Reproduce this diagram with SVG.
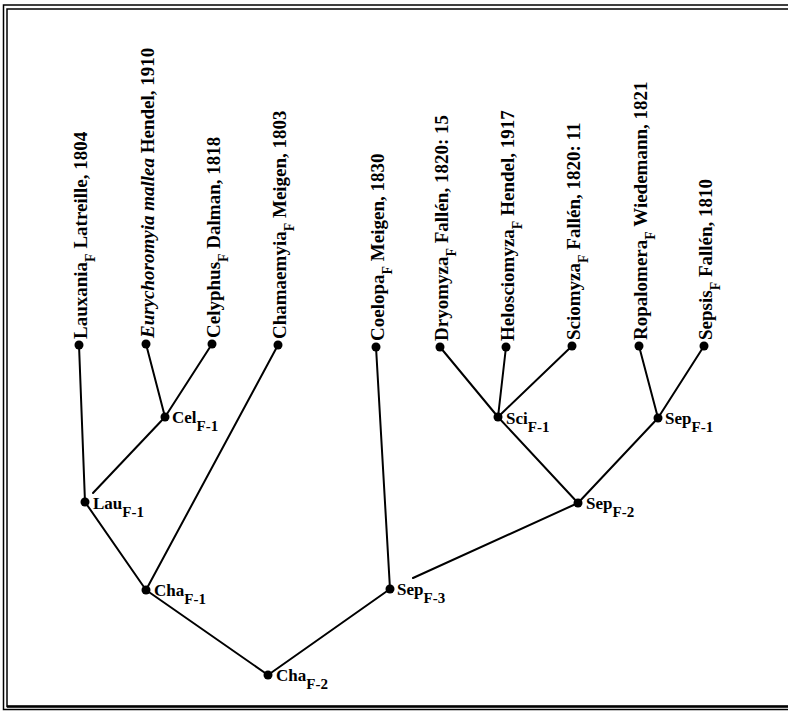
<svg xmlns="http://www.w3.org/2000/svg" width="788" height="711" viewBox="0 0 788 711">
<style>
.bg{fill:#ffffff}
.frame{fill:none;stroke:#000;stroke-width:1.5}
.edge{stroke:#000;stroke-width:2;fill:none;stroke-linecap:round}
.dot{fill:#000}
.leaf{font-family:"Liberation Serif","Times New Roman",serif;font-weight:bold;font-size:19px;fill:#000}
.lsub{font-size:14px}
.it{font-style:italic}
.inode{font-family:"Liberation Serif","Times New Roman",serif;font-weight:bold;font-size:17px;fill:#000}
.isub{font-size:15px}
</style>
<rect class="bg" x="0" y="0" width="788" height="711"/>
<g id="frame">
<polyline class="frame" points="788,5 3.5,5 3.5,709.5 788,709.5"/>
<polyline class="frame" points="788,9 7,9 7,706.5 788,706.5"/>
<line x1="7" y1="706.5" x2="788" y2="706.5" stroke="#000" stroke-width="2.5"/>
</g>
<g id="connectors">
<line class="edge" x1="79" y1="345" x2="85" y2="502"/>
<line class="edge" x1="146" y1="344" x2="165" y2="417"/>
<line class="edge" x1="212" y1="344" x2="165" y2="417"/>
<line class="edge" x1="165" y1="417" x2="93" y2="493"/>
<line class="edge" x1="85" y1="502" x2="146" y2="590"/>
<line class="edge" x1="278" y1="345" x2="146" y2="590"/>
<line class="edge" x1="146" y1="590" x2="268" y2="675"/>
<line class="edge" x1="268" y1="675" x2="390" y2="589"/>
<line class="edge" x1="376" y1="347" x2="390" y2="589"/>
<line class="edge" x1="413" y1="578" x2="578" y2="503"/>
<line class="edge" x1="440" y1="347" x2="498" y2="417"/>
<line class="edge" x1="506" y1="347" x2="498" y2="417"/>
<line class="edge" x1="572" y1="346" x2="498" y2="417"/>
<line class="edge" x1="498" y1="417" x2="578" y2="503"/>
<line class="edge" x1="639" y1="346" x2="658" y2="418"/>
<line class="edge" x1="704" y1="346" x2="658" y2="418"/>
<line class="edge" x1="658" y1="418" x2="578" y2="503"/>
</g>
<g id="lauxania"><circle class="dot" cx="79" cy="345" r="4.5"/><text class="leaf" transform="translate(87,339) rotate(-90)">Lauxania<tspan class="lsub" dy="8">F</tspan><tspan dy="-8"> Latreille, 1804</tspan></text></g>
<g id="eurychoromyia"><circle class="dot" cx="146" cy="344" r="4.5"/><text class="leaf" transform="translate(154,338) rotate(-90)"><tspan class="it">Eurychoromyia mallea</tspan> Hendel, 1910</text></g>
<g id="celyphus"><circle class="dot" cx="212" cy="344" r="4.5"/><text class="leaf" transform="translate(220,338) rotate(-90)">Celyphus<tspan class="lsub" dy="8">F</tspan><tspan dy="-8"> Dalman, 1818</tspan></text></g>
<g id="chamaemyia"><circle class="dot" cx="278" cy="345" r="4.5"/><text class="leaf" transform="translate(286,339) rotate(-90)">Chamaemyia<tspan class="lsub" dy="8">F</tspan><tspan dy="-8"> Meigen, 1803</tspan></text></g>
<g id="coelopa"><circle class="dot" cx="376" cy="347" r="4.5"/><text class="leaf" transform="translate(384,341) rotate(-90)">Coelopa<tspan class="lsub" dy="8">F</tspan><tspan dy="-8"> Meigen, 1830</tspan></text></g>
<g id="dryomyza"><circle class="dot" cx="440" cy="347" r="4.5"/><text class="leaf" transform="translate(448,341) rotate(-90)">Dryomyza<tspan class="lsub" dy="8">F</tspan><tspan dy="-8"> Fallén, 1820: 15</tspan></text></g>
<g id="helosciomyza"><circle class="dot" cx="506" cy="347" r="4.5"/><text class="leaf" transform="translate(514,341) rotate(-90)">Helosciomyza<tspan class="lsub" dy="8">F</tspan><tspan dy="-8"> Hendel, 1917</tspan></text></g>
<g id="sciomyza"><circle class="dot" cx="572" cy="346" r="4.5"/><text class="leaf" transform="translate(580,340) rotate(-90)">Sciomyza<tspan class="lsub" dy="8">F</tspan><tspan dy="-8"> Fallén, 1820: 11</tspan></text></g>
<g id="ropalomera"><circle class="dot" cx="639" cy="346" r="4.5"/><text class="leaf" transform="translate(647,340) rotate(-90)">Ropalomera<tspan class="lsub" dy="8">F</tspan><tspan dy="-8"> Wiedemann, 1821</tspan></text></g>
<g id="sepsis"><circle class="dot" cx="704" cy="346" r="4.5"/><text class="leaf" transform="translate(712,340) rotate(-90)">Sepsis<tspan class="lsub" dy="8">F</tspan><tspan dy="-8"> Fallén, 1810</tspan></text></g>
<g id="cel-f1"><circle class="dot" cx="165" cy="417" r="4.5"/><text class="inode" x="172" y="423">Cel<tspan class="isub" dy="8">F-1</tspan></text></g>
<g id="lau-f1"><circle class="dot" cx="85" cy="502" r="4.5"/><text class="inode" x="93" y="509">Lau<tspan class="isub" dy="8">F-1</tspan></text></g>
<g id="cha-f1"><circle class="dot" cx="146" cy="590" r="4.5"/><text class="inode" x="154" y="596">Cha<tspan class="isub" dy="8">F-1</tspan></text></g>
<g id="cha-f2"><circle class="dot" cx="268" cy="675" r="4.5"/><text class="inode" x="276" y="681">Cha<tspan class="isub" dy="8">F-2</tspan></text></g>
<g id="sep-f3"><circle class="dot" cx="390" cy="589" r="4.5"/><text class="inode" x="397" y="595">Sep<tspan class="isub" dy="8">F-3</tspan></text></g>
<g id="sep-f2"><circle class="dot" cx="578" cy="503" r="4.5"/><text class="inode" x="586" y="509">Sep<tspan class="isub" dy="8">F-2</tspan></text></g>
<g id="sci-f1"><circle class="dot" cx="498" cy="417" r="4.5"/><text class="inode" x="506" y="424">Sci<tspan class="isub" dy="8">F-1</tspan></text></g>
<g id="sep-f1"><circle class="dot" cx="658" cy="418" r="4.5"/><text class="inode" x="665" y="424">Sep<tspan class="isub" dy="8">F-1</tspan></text></g>
</svg>
